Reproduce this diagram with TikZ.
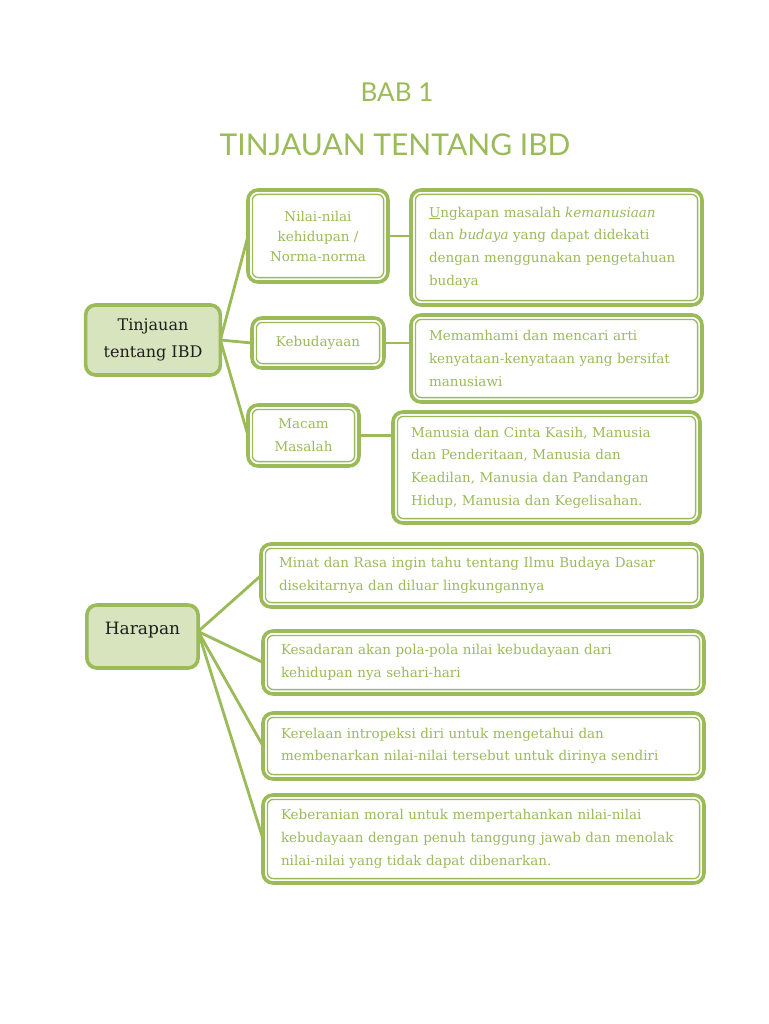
\documentclass[tikz,border=0pt]{standalone}
\usepackage{fontspec}
\setmainfont{DejaVu Serif}
\newfontfamily\titlefont{Lato}
\usetikzlibrary{positioning, backgrounds}
\definecolor{gLine}{RGB}{155, 187, 89}
\definecolor{gText}{RGB}{155, 187, 89}
\definecolor{gFill}{RGB}{215, 228, 189}
\definecolor{tDark}{RGB}{30, 30, 30}

\begin{document}
\begin{tikzpicture}[
    x=1pt, y=1pt,
    box/.style={
        draw=gLine,
        line width=3.6pt,
        rounded corners=10pt,
        fill=white,
        text=gText,
        font=\fontsize{13.5}{22.7}\selectfont,
        inner xsep=18pt,
        inner ysep=4pt,
        outer sep=0pt
    },
    note/.style={box, align=left, text width=#1},
    main/.style={box, fill=gFill, text=tDark, align=center, font=\fontsize{16}{27}\selectfont},
    link/.style={draw=gLine, line width=2.8pt},
    frame/.style={draw=gLine, line width=1.3pt, rounded corners=6pt}
]

\useasboundingbox (0,0) rectangle (768,-1024);
\begin{scope}[on background layer]
    \fill[white] (0,0) rectangle (768,-1024);
\end{scope}

% Title
\node[font=\titlefont\fontsize{26}{30}\selectfont, text=gLine] (bab) at (397,-92) {BAB 1};
\node[font=\titlefont\fontsize{30}{34}\selectfont, text=gLine] (title) at (395,-145) {TINJAUAN TENTANG IBD};

% Tinjauan tentang IBD
\node[main, minimum width=128pt, minimum height=70pt] (tinjau) at (153,-340) {Tinjauan\\tentang IBD};

\node[box, align=center, minimum width=140pt, minimum height=92pt,
      font=\fontsize{13.5}{20}\selectfont] (nilai) at (318,-236) {
    Nilai-nilai\\kehidupan /\\Norma-norma
};
\node[note=255pt, minimum height=115pt] (ungkap) at (556.5,-247.5) {
    \underline{U}ngkapan masalah \textit{kemanusiaan}\\
    dan \textit{budaya} yang dapat didekati\\
    dengan menggunakan pengetahuan\\
    budaya
};

\node[box, align=center, minimum width=132pt, minimum height=50pt] (budaya) at (318,-343) {Kebudayaan};
\node[note=255pt, minimum height=87pt] (paham) at (556.5,-358.5) {
    Memamhami dan mencari arti\\
    kenyataan-kenyataan yang bersifat\\
    manusiawi
};

\node[box, align=center, minimum width=111pt, minimum height=61pt] (macam) at (303.5,-435.5) {Macam\\Masalah};
\node[note=271pt, minimum height=111pt] (manusia) at (546.5,-467.5) {
    Manusia dan Cinta Kasih, Manusia\\
    dan Penderitaan, Manusia dan\\
    Keadilan, Manusia dan Pandangan\\
    Hidup, Manusia dan Kegelisahan.
};

% Harapan
\node[main, font=\fontsize{17}{20}\selectfont, minimum width=109pt, minimum height=63pt,
      text height=13pt, text depth=18pt] (harap) at (142.5,-636.5) {Harapan};

\node[note=405pt, minimum height=63pt] (minat) at (481.5,-575.5) {
    Minat dan Rasa ingin tahu tentang Ilmu Budaya Dasar\\
    disekitarnya dan diluar lingkungannya
};
\node[note=405pt, minimum height=63pt] (sadar) at (483.5,-662.5) {
    Kesadaran akan pola-pola nilai kebudayaan dari\\
    kehidupan nya sehari-hari
};
\node[note=405pt, minimum height=66pt] (rela) at (483.5,-746) {
    Kerelaan intropeksi diri untuk mengetahui dan\\
    membenarkan nilai-nilai tersebut untuk dirinya sendiri
};
\node[note=405pt, minimum height=88pt] (berani) at (483.5,-839) {
    Keberanian moral untuk mempertahankan nilai-nilai\\
    kebudayaan dengan penuh tanggung jawab dan menolak\\
    nilai-nilai yang tidak dapat dibenarkan.
};

% inner lines of the double frames
\foreach \n in {nilai, ungkap, budaya, paham, macam, manusia, minat, sadar, rela, berani}
    \draw[frame] ([shift={(4.4,-4.4)}]\n.north west) rectangle ([shift={(-4.4,4.4)}]\n.south east);

% connectors
\begin{scope}[on background layer]
    \draw[link] (tinjau.east) -- (nilai.west);
    \draw[link] (tinjau.east) -- (budaya.west);
    \draw[link] (tinjau.east) -- (macam.west);
    \draw[link] (nilai.east) -- (nilai.east -| ungkap.west);
    \draw[link] (budaya.east) -- (budaya.east -| paham.west);
    \draw[link] (macam.east) -- (macam.east -| manusia.west);
    \foreach \n in {minat, sadar, rela, berani}
        \draw[link] ([yshift=5pt]harap.east) -- (\n.west);
\end{scope}

\end{tikzpicture}
\end{document}
